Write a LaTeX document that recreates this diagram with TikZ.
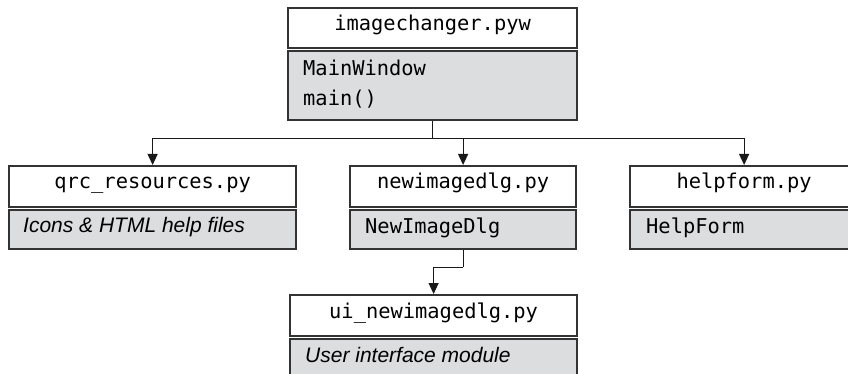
\documentclass[tikz,border=0pt]{standalone}
\usepackage{fontspec}
\setmonofont{DejaVu Sans Mono}
\newfontfamily\helvit{Liberation Sans}
\usetikzlibrary{arrows.meta}
\definecolor{boxline}{RGB}{51,51,51}
\definecolor{boxfill}{RGB}{220,221,223}
\tikzset{
  hdr/.style={draw=boxline, line width=2.2pt, fill=white, anchor=north west, inner sep=0pt,
    font=\fontsize{20.4}{24}\ttfamily, text height=0.75em, text depth=0.22em},
  bodybox/.style={draw=boxline, line width=2.2pt, fill=boxfill, anchor=north west, inner sep=0pt},
  monotxt/.style={anchor=base west, inner sep=0pt, font=\fontsize{20.4}{24}\ttfamily},
  ittxt/.style={anchor=base west, inner sep=0pt, font=\fontsize{21}{24}\helvit\itshape},
  conn/.style={draw=black!90, line width=1.1pt},
  arr/.style={conn, -{Triangle[length=11pt,width=10pt]}}
}
\begin{document}
\begin{tikzpicture}[x=1pt,y=-1pt]
\useasboundingbox (0,0) rectangle (848,374);
\clip (0,0) rectangle (848,374);
% main box
\node[hdr, minimum width=289pt, minimum height=40pt] (mainH) at (287,7) {imagechanger.pyw};
\node[bodybox, minimum width=289pt, minimum height=69pt] (mainB) at (287,50) {};
\node[monotxt] (mainT1) at (303,76) {MainWindow};
\node[monotxt] (mainT2) at (303,106) {main()};
% qrc
\node[hdr, minimum width=287pt, minimum height=40.5pt] (qrcH) at (8,165) {qrc\_resources.py};
\node[bodybox, minimum width=287pt, minimum height=39pt] (qrcB) at (8,209) {};
\node[ittxt] (qrcT) at (23,232.5) {Icons \& HTML help files};
% newimagedlg
\node[hdr, minimum width=226pt, minimum height=40.5pt] (newH) at (349,165) {newimagedlg.py};
\node[bodybox, minimum width=226pt, minimum height=39pt] (newB) at (349,209) {};
\node[monotxt] (newT) at (365,233) {NewImageDlg};
% helpform
\node[hdr, minimum width=228pt, minimum height=40.5pt] (helpH) at (629,165) {helpform.py};
\node[bodybox, minimum width=228pt, minimum height=39pt] (helpB) at (629,209) {};
\node[monotxt] (helpT) at (646,233) {HelpForm};
% ui
\node[hdr, minimum width=287pt, minimum height=40.5pt] (uiH) at (289,294) {ui\_newimagedlg.py};
\node[bodybox, minimum width=287pt, minimum height=41pt] (uiB) at (289,338) {};
\node[ittxt] (uiT) at (305,362) {User interface module};
% connectors
\path (mainB.south) ++(0,17) coordinate (bus);
\draw[conn] (mainB.south) -- (bus);
\draw[arr] (bus) -| (qrcH.north);
\draw[arr] (bus) -| (newH.north);
\draw[arr] (bus) -| (helpH.north);
\path (newB.south) ++(0,17) coordinate (bus2);
\draw[conn] (newB.south) -- (bus2);
\draw[arr] (bus2) -| (uiH.north);
\end{tikzpicture}
\end{document}
